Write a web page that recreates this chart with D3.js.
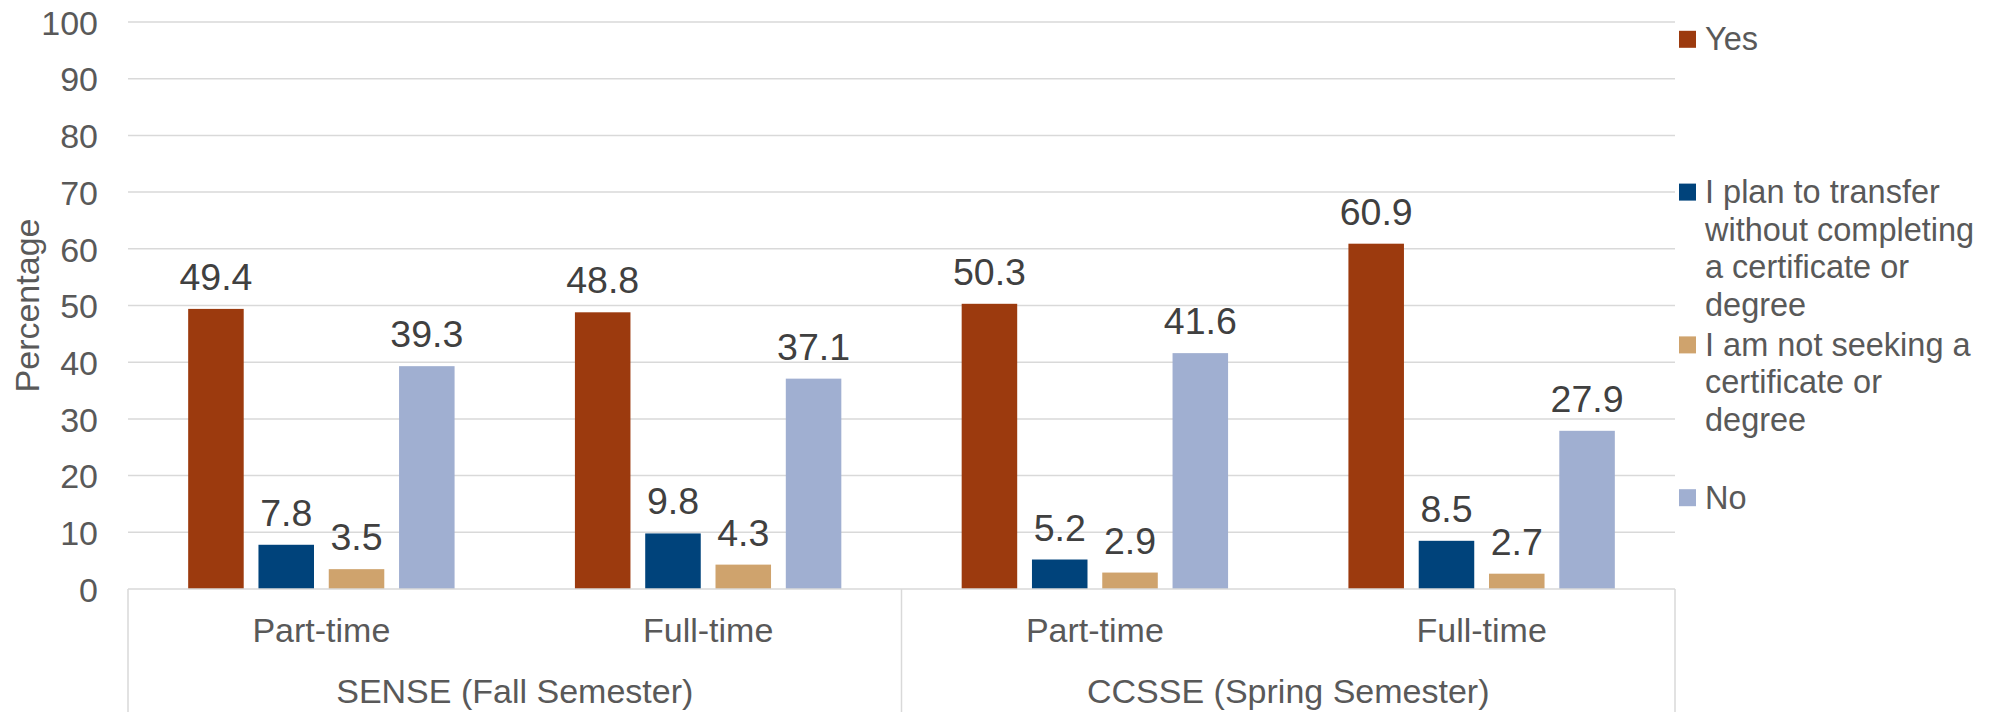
<!DOCTYPE html>
<html>
<head>
<meta charset="utf-8">
<script src="https://cdn.jsdelivr.net/npm/d3@7"></script>
<style>
  html, body { margin: 0; padding: 0; background: #fff; }
  svg { display: block; font-family: "Liberation Sans", Arial, sans-serif; }
</style>
</head>
<body>
<svg id="chart" width="1999" height="712"></svg>
<script>
// ---- data ----
const groups = ["SENSE (Fall Semester)", "CCSSE (Spring Semester)"];
const categories = ["Part-time", "Full-time"];
const seriesNames = [
  "Yes",
  "I plan to transfer without completing a certificate or degree",
  "I am not seeking a certificate or degree",
  "No"
];
const legendLines = [
  ["Yes"],
  ["I plan to transfer", "without completing", "a certificate or", "degree"],
  ["I am not seeking a", "certificate or", "degree"],
  ["No"]
];
const yesValues = [49.4, 48.8, 50.3, 60.9];
const planValues = [7.8, 9.8, 5.2, 8.5];
const notSeekingValues = [3.5, 4.3, 2.9, 2.7];
const noValues = [39.3, 37.1, 41.6, 27.9];
const yTicks = [0, 10, 20, 30, 40, 50, 60, 70, 80, 90, 100];
const colors = ["#9C3A0E", "#00437B", "#CFA36D", "#A0AFD1"];

const seriesValues = [yesValues, planValues, notSeekingValues, noValues];
const slots = [];
groups.forEach((g, gi) => categories.forEach((c, ci) => slots.push({ group: g, cat: c, key: gi + "|" + ci })));

// ---- layout ----
const svg = d3.select("#chart");
const pLeft = 128, pRight = 1675, pTop = 22, pBottom = 589, H = 712;

const y = d3.scaleLinear().domain([0, 100]).range([pBottom, pTop]);
const x0 = d3.scaleBand().domain(slots.map(s => s.key)).range([pLeft, pRight]).paddingInner(0).paddingOuter(0);
const x1 = d3.scaleBand().domain(seriesNames).range([0, x0.bandwidth()]).paddingInner(0.21).paddingOuter(0.856);
const gx = d3.scaleBand().domain(groups).range([pLeft, pRight]);

// gridlines
svg.append("g").selectAll("line").data(yTicks.filter(t => t > 0)).join("line")
  .attr("x1", pLeft).attr("x2", pRight)
  .attr("y1", d => y(d)).attr("y2", d => y(d))
  .attr("stroke", "#D9D9D9").attr("stroke-width", 1.5);

// y axis labels
const yAxis = d3.axisLeft(y).tickValues(yTicks).tickSize(0).tickPadding(0);
const yg = svg.append("g").attr("transform", `translate(${pLeft - 30},0)`).call(yAxis);
yg.select(".domain").remove();
yg.selectAll("text").attr("font-size", 34).attr("fill", "#595959")
  .attr("font-family", "'Liberation Sans', Arial, sans-serif").attr("dy", "0.36em");

svg.append("text")
  .attr("transform", `translate(39,${(pTop + pBottom) / 2}) rotate(-90)`)
  .attr("text-anchor", "middle").attr("font-size", 34).attr("fill", "#595959")
  .text("Percentage");

// bars
const barData = [];
slots.forEach((s, i) => seriesNames.forEach((n, si) => barData.push({ key: s.key, name: n, si, v: seriesValues[si][i] })));

svg.append("g").selectAll("rect").data(barData).join("rect")
  .attr("x", d => x0(d.key) + x1(d.name))
  .attr("width", x1.bandwidth())
  .attr("y", d => y(d.v))
  .attr("height", d => y(0) - y(d.v))
  .attr("fill", d => colors[d.si]);

svg.append("g").selectAll("text").data(barData).join("text")
  .attr("x", d => x0(d.key) + x1(d.name) + x1.bandwidth() / 2)
  .attr("y", d => y(d.v) - 19)
  .attr("text-anchor", "middle").attr("font-size", 37.5).attr("fill", "#404040")
  .text(d => d.v.toFixed(1));

// x axis baseline and separators
svg.append("line").attr("x1", pLeft).attr("x2", pRight).attr("y1", pBottom).attr("y2", pBottom)
  .attr("stroke", "#D9D9D9").attr("stroke-width", 1.5);
const seps = [pLeft].concat(groups.map(g => gx(g) + gx.bandwidth()));
svg.append("g").selectAll("line").data(seps).join("line")
  .attr("x1", d => d).attr("x2", d => d).attr("y1", pBottom).attr("y2", H)
  .attr("stroke", "#D9D9D9").attr("stroke-width", 1.5);

// category labels
svg.append("g").selectAll("text").data(slots).join("text")
  .attr("x", d => x0(d.key) + x0.bandwidth() / 2)
  .attr("y", 642)
  .attr("text-anchor", "middle").attr("font-size", 34).attr("fill", "#595959")
  .text(d => d.cat);

// group labels
svg.append("g").selectAll("text").data(groups).join("text")
  .attr("x", d => gx(d) + gx.bandwidth() / 2)
  .attr("y", 703)
  .attr("text-anchor", "middle").attr("font-size", 34).attr("fill", "#595959")
  .text(d => d);

// legend
const legendY = d3.scalePoint().domain(seriesNames).range([39.3, 497.7]);
const lg = svg.append("g").selectAll("g").data(seriesNames).join("g")
  .attr("transform", d => `translate(1679,${legendY(d)})`);
lg.append("rect").attr("x", 0).attr("y", -8.5).attr("width", 17).attr("height", 17)
  .attr("fill", (d, i) => colors[i]);
lg.append("text").attr("x", 26).attr("y", 11).attr("font-size", 32.5).attr("fill", "#595959")
  .selectAll("tspan").data((d, i) => legendLines[i]).join("tspan")
  .attr("x", 26).attr("dy", (d, i) => i === 0 ? 0 : 37.5)
  .text(d => d);
</script>
</body>
</html>
